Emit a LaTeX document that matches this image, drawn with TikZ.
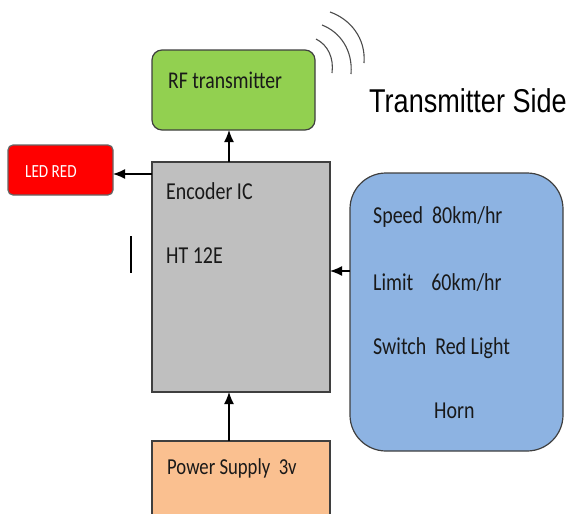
\documentclass[tikz,border=0pt]{standalone}
\usepackage{fontspec}
\setmainfont[FakeStretch=0.82]{Carlito}
\newfontfamily\titlefont[FakeStretch=0.82]{Liberation Sans}
\usetikzlibrary{arrows.meta}
\definecolor{rfgreen}{HTML}{92D050}
\definecolor{ledred}{HTML}{FF0000}
\definecolor{icgray}{HTML}{BFBFBF}
\definecolor{inblue}{HTML}{8DB3E2}
\definecolor{pwr}{HTML}{FAC090}
\definecolor{edge}{HTML}{3F3F3F}
\begin{document}
\begin{tikzpicture}[x=1pt,y=-1pt,
  box/.style={draw=edge,line width=1.2pt,anchor=north west,inner sep=0pt,outer sep=0pt},
  lbl/.style={anchor=base west,inner sep=0pt,text=black!90},
  arr/.style={line width=1.4pt,-{Latex[length=12pt,width=10pt]}},
  wave/.style={draw=black!70,line width=1.1pt}]
\useasboundingbox (0,0) rectangle (568,514);
% boxes
\node[box,fill=rfgreen,rounded corners=10pt,minimum width=163pt,minimum height=80pt] (rf) at (152,50) {};
\node[box,fill=ledred,draw=black!60,rounded corners=5pt,minimum width=105pt,minimum height=50pt] (led) at (8,145) {};
\node[box,fill=icgray,minimum width=178pt,minimum height=230pt] (enc) at (152,162) {};
\node[box,fill=inblue,rounded corners=36pt,minimum width=213pt,minimum height=278pt] (inp) at (350,173) {};
\node[box,fill=pwr,minimum width=178pt,minimum height=74pt] (pw) at (152,441) {};
% texts
\node[lbl] (trf) at (168,88) {\fontsize{24}{28}\selectfont RF transmitter};
\node[lbl,text=white] (tled) at (25,177) {\fontsize{18.5}{22}\selectfont LED RED};
\node[lbl] (tenc1) at (166,199) {\fontsize{24.3}{28}\selectfont Encoder IC};
\node[lbl] (tenc2) at (166,263) {\fontsize{24.3}{28}\selectfont HT 12E};
\node[lbl] (tin1) at (373,223) {\fontsize{24.3}{28}\selectfont Speed\ \ 80km/hr};
\node[lbl] (tin2) at (373,290) {\fontsize{24.3}{28}\selectfont Limit\ \ \ \ 60km/hr};
\node[lbl] (tin3) at (373,354) {\fontsize{24.3}{28}\selectfont Switch\ \ Red Light};
\node[lbl] (tin4) at (434,418) {\fontsize{24.3}{28}\selectfont Horn};
\node[lbl] (tpw) at (167,474) {\fontsize{22.8}{26}\selectfont Power Supply\ \ 3v};
\node[anchor=base west,inner sep=0pt] (title) at (369,112) {\titlefont\fontsize{33}{38}\selectfont Transmitter Side};
% vertical mark
\coordinate (m1) at (131,236);
\coordinate (m2) at (131,273);
\draw[line width=2pt] (m1) -- (m2);
% connectors
\coordinate (e1) at (229,162);
\draw[arr] (e1) -- (e1 |- rf.south);
\coordinate (e2) at (152,174);
\draw[arr] (e2) -- (e2 -| led.east);
\coordinate (b1) at (350,271);
\draw[arr] (b1) -- (b1 -| enc.east);
\coordinate (p1) at (229,441);
\draw[arr] (p1) -- (p1 |- enc.south);
% radio waves
\coordinate (w1a) at (316,39); \coordinate (w1b) at (332,73);
\coordinate (w2a) at (322,25); \coordinate (w2b) at (351,74);
\coordinate (w3a) at (330,12); \coordinate (w3b) at (364,63);
\draw[wave] (w1a) .. controls (328,45) and (334,58) .. (w1b);
\draw[wave] (w2a) .. controls (340,32) and (353,50) .. (w2b);
\draw[wave] (w3a) .. controls (350,19) and (366,38) .. (w3b);
\end{tikzpicture}
\end{document}
